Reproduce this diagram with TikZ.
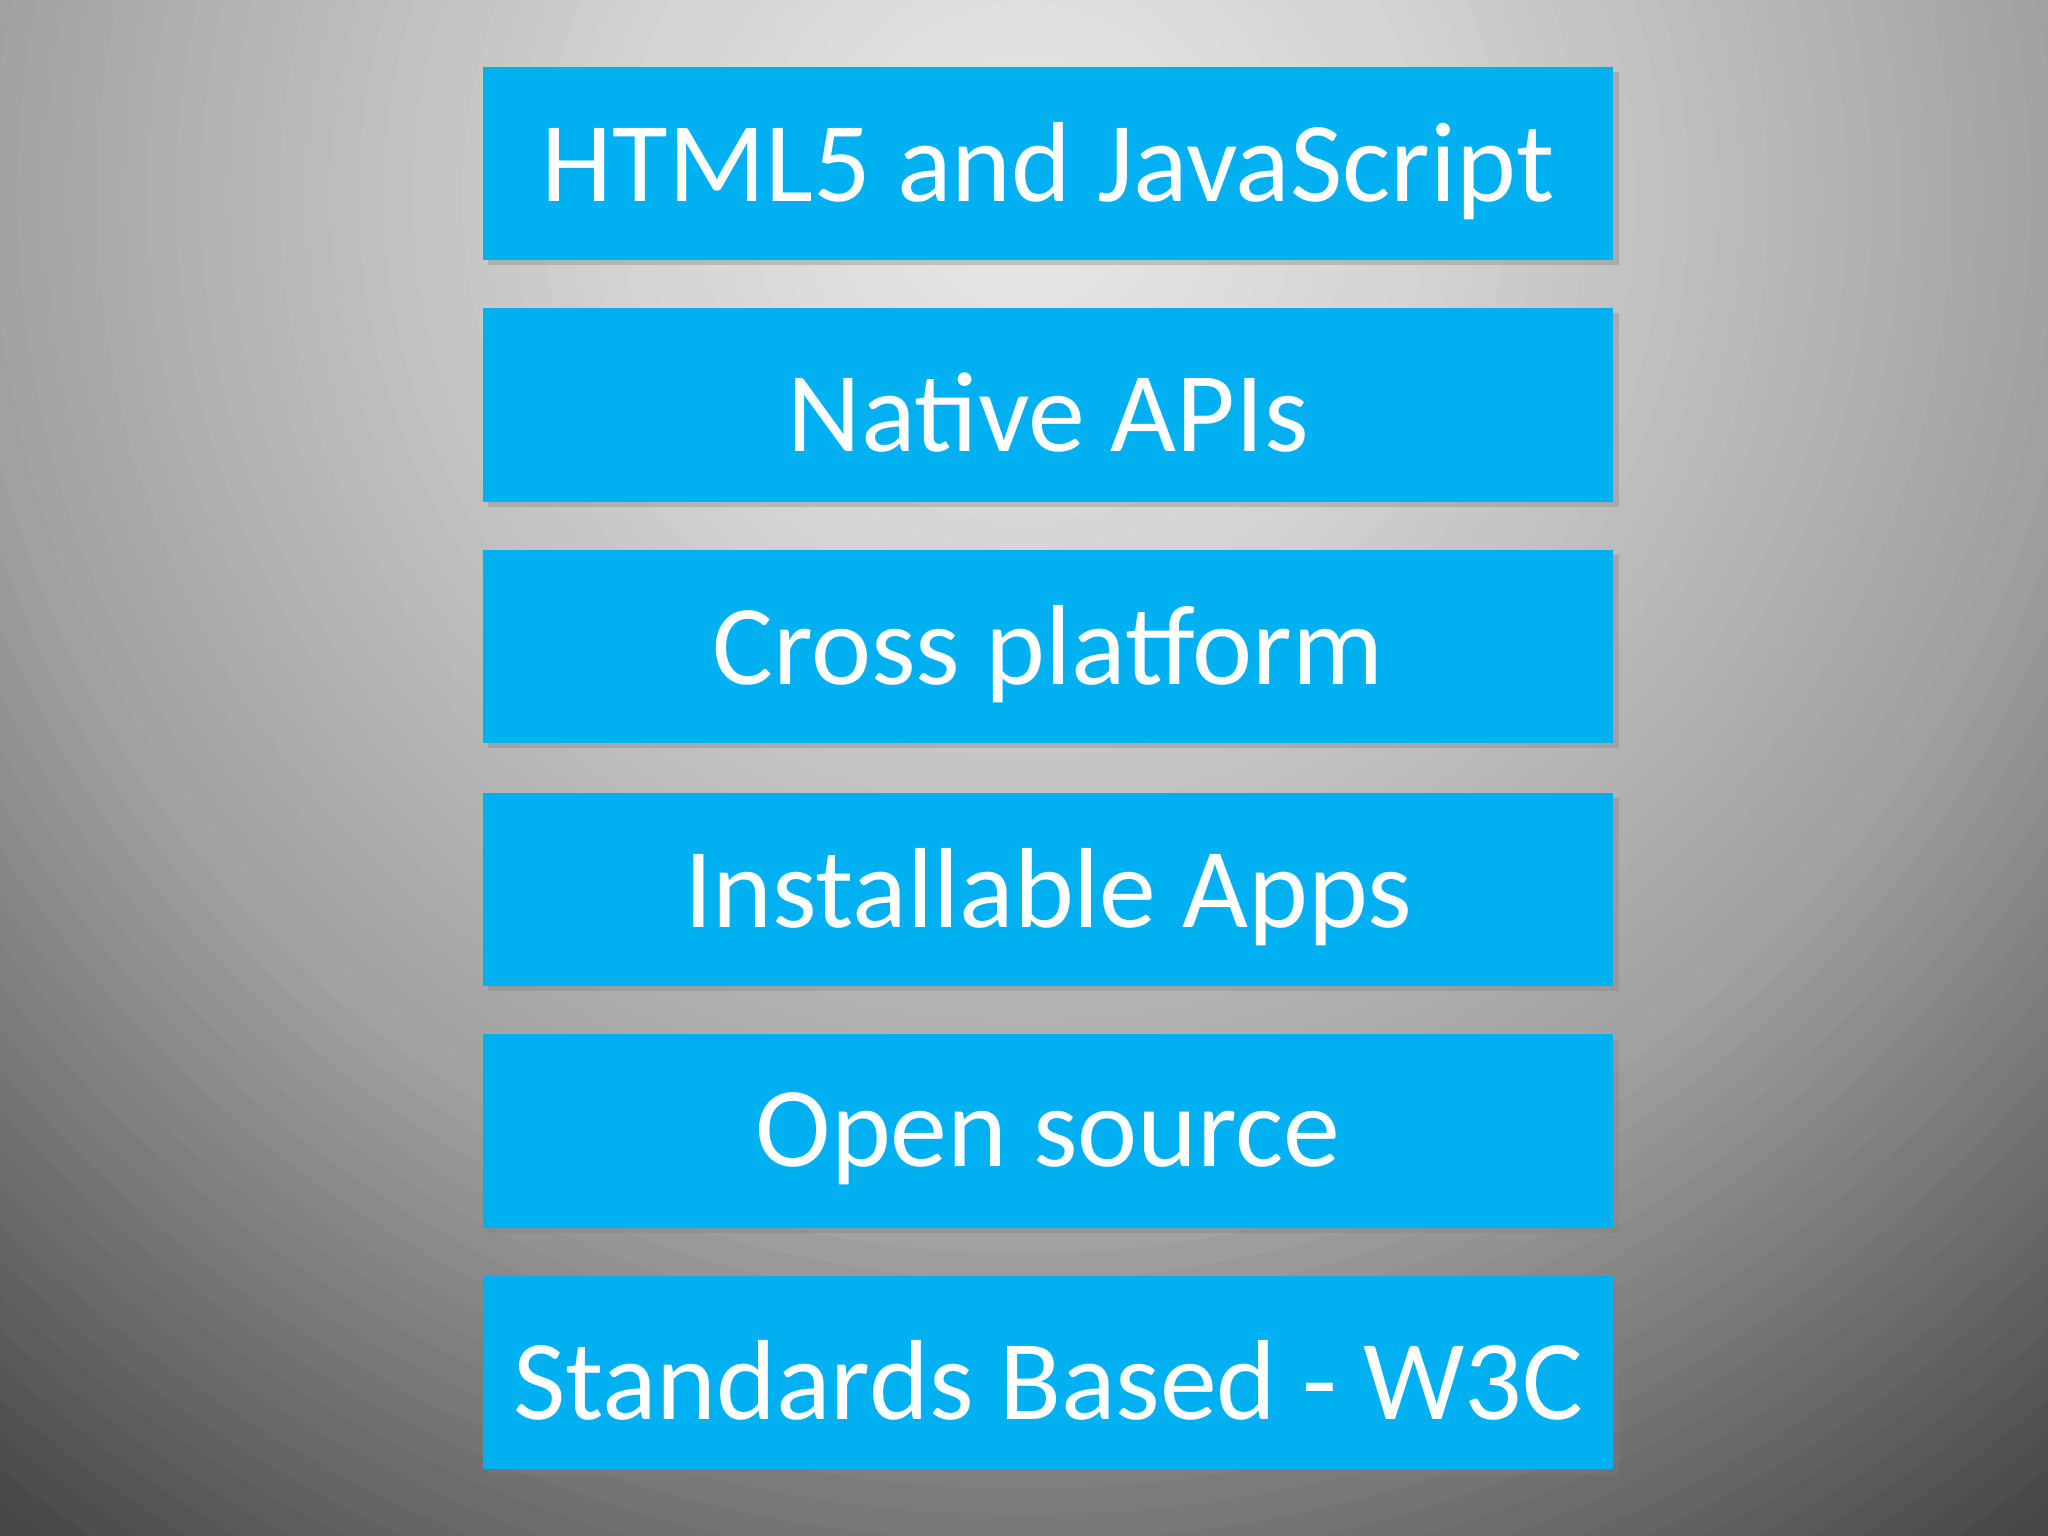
\documentclass[tikz,border=0pt]{standalone}
\usepackage{fontspec}
\setmainfont{Carlito}
\usetikzlibrary{shadows}
\definecolor{boxblue}{HTML}{00B0F0}
\begin{document}
\begin{tikzpicture}[x=0.01cm,y=-0.01cm,
  itembox/.style={fill=boxblue,draw=none,minimum width=8.65cm,minimum height=1.48cm,inner sep=0pt,
    text=white,drop shadow={shadow xshift=0.04cm,shadow yshift=-0.04cm,opacity=0.35}},
  itemtext/.style={text=white,font=\fontsize{24.8}{28}\selectfont,inner sep=0pt}]
\useasboundingbox (0,0) rectangle (1568,1176);
\begin{scope}
\clip (0,0) rectangle (1568,1176);
\fill[black!78] (0,0) rectangle (1568,1176);
\foreach \r in {1400,1380,...,0}{
  \pgfmathsetmacro{\v}{\r<300 ? 0.91-0.08*\r/300 : (\r<800 ? 0.83-0.20*(\r-300)/500 : (\r<1100 ? 0.63-0.22*(\r-800)/300 : max(0.22,0.41-0.19*(\r-1100)/250)))}
  \definecolor{bgc}{gray}{\v}
  \fill[bgc] (784,150) ellipse [x radius=\r+10, y radius=\r+10];
}
\end{scope}
\foreach \i/\y/\t in {1/125/HTML5 and JavaScript,2/310/Native APIs,3/495/Cross platform,4/681/Installable Apps,5/866/Open source,6/1051/Standards Based - W3C}{
  \node[itembox] (n\i) at (802.5,\y) {};
  \node[itemtext] (t\i) at ([yshift=-0.06cm]n\i.center) {\t};
}
\end{tikzpicture}
\end{document}
